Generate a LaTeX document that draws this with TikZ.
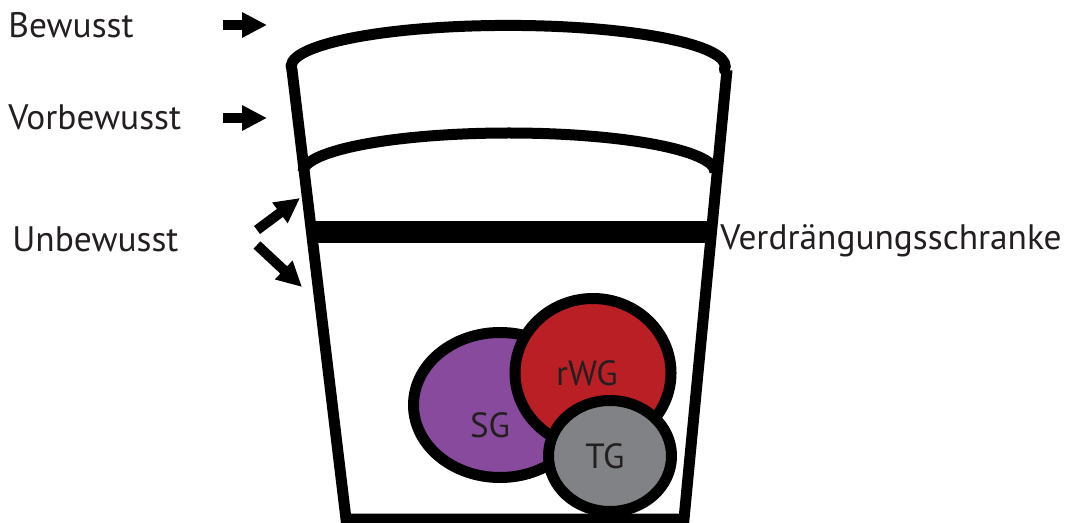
\documentclass[tikz,border=0pt]{standalone}
\usepackage{fontspec}
\setmainfont{PT Sans}
\usepackage{tikz}
\usetikzlibrary{shapes.geometric}
\usetikzlibrary{arrows.meta}
\definecolor{sgpurple}{HTML}{874A9C}
\definecolor{wgred}{HTML}{BA1F25}
\definecolor{tggray}{HTML}{808285}
\definecolor{ink}{HTML}{231F20}
\tikzstyle{layer}=[anchor=base west,inner sep=0mm,text=ink,font=\fontsize{17.7}{19}\selectfont]
\tikzstyle{tag}=[anchor=base,inner sep=0mm,text=ink,font=\fontsize{17.5}{19}\selectfont]
\tikzstyle{wall}=[line width=5.5pt]
\tikzstyle{blob}=[ellipse,draw=black,line width=5.5pt,inner sep=0mm]
\tikzstyle{pointer}=[-{Triangle[length=12.5pt,width=12pt]},line width=5pt]
\tikzset{every picture/.style={
    x=0.5pt,y=-0.5pt
  }
}

\begin{document}
\begin{tikzpicture}
      \useasboundingbox (0,0) rectangle (1069,523);
      \draw[wall,line cap=round] (292,70) arc[start angle=175,end angle=365,x radius=217,y radius=41];
      \draw[wall] (303,172) arc[start angle=180,end angle=360,x radius=206,y radius=39];
      \draw[wall,line join=miter] (292,70) -- (346,519) -- (684,519) -- (727,70);
      \draw[line width=11pt] (311,232) -- (714,232);
      \node[blob,fill=sgpurple,minimum width=86.5pt,minimum height=72.5pt] at (500,405) (sg) {};
      \node[tag] at (490,437) (sgtext) {SG};
      \node[blob,fill=wgred,minimum width=78pt,minimum height=74.5pt] at (593,373) (rwg) {};
      \node[tag] at (587,385) (rwgtext) {rWG};
      \node[blob,fill=tggray,minimum width=61.5pt,minimum height=55.5pt] at (610,456) (tg) {};
      \node[tag] at (605,468) (tgtext) {TG};
      \node[layer] at (8,38) (bw) {Bewusst};
      \node[layer] at (8,130) (vbw) {Vorbewusst};
      \node[layer] at (12,252) (ubw) {Unbewusst};
      \node[layer] at (720,250) (vds) {Verdrängungsschranke};
      \coordinate (bw-s) at (223,25);
      \coordinate (bw-e) at (267,25);
      \coordinate (vbw-s) at (223,118);
      \coordinate (vbw-e) at (267,118);
      \coordinate (ubw-s1) at (257,230);
      \coordinate (ubw-e1) at (300,198);
      \coordinate (ubw-s2) at (257,245);
      \coordinate (ubw-e2) at (302,287);
      \draw[pointer] (bw-s) -- (bw-e);
      \draw[pointer] (vbw-s) -- (vbw-e);
      \draw[pointer] (ubw-s1) -- (ubw-e1);
      \draw[pointer] (ubw-s2) -- (ubw-e2);
    \end{tikzpicture}
\end{document}
